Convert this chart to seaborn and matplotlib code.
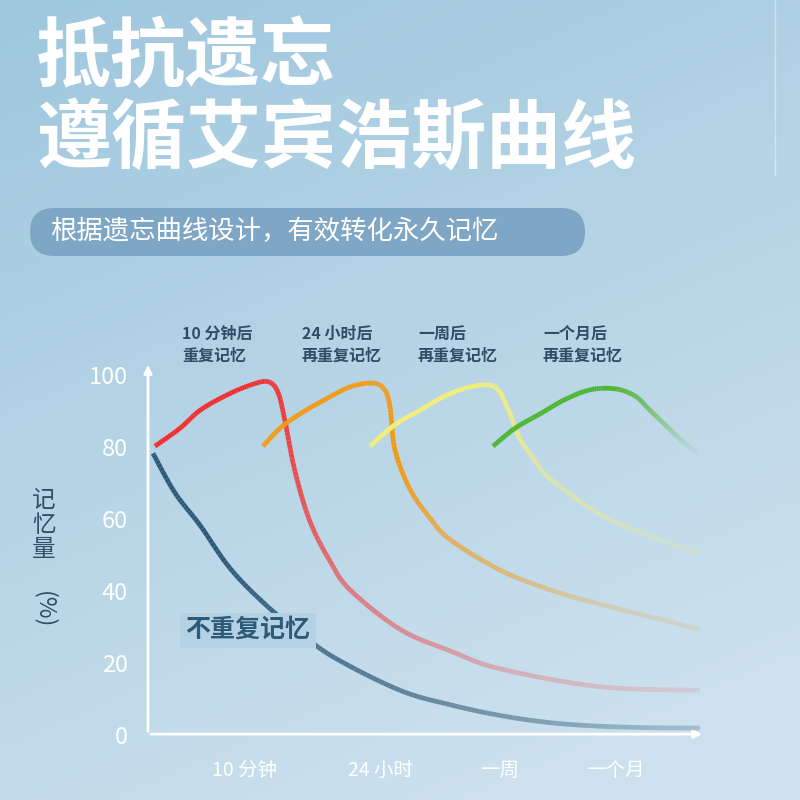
import matplotlib
matplotlib.use("Agg")
import matplotlib.pyplot as plt
import numpy as np
import seaborn as sns
from matplotlib.collections import LineCollection
from matplotlib.patches import FancyBboxPatch

FONT = "Noto Sans CJK SC"
TITLE_1 = "抵抗遗忘"
TITLE_2 = "遵循艾宾浩斯曲线"
SUBTITLE = "根据遗忘曲线设计，有效转化永久记忆"

Y_TICKS = [0, 20, 40, 60, 80, 100]
X_LABELS = ["10 分钟", "24 小时", "一周", "一个月"]
X_LABEL_POS = [245, 380, 500, 615]

# curves: x position along time axis, y memory %
NO_REPEAT_X = [153, 175, 200, 230, 265, 300, 335, 400, 450, 500, 550, 600, 650, 700]
NO_REPEAT_Y = [79, 68, 59, 47, 37, 29, 22, 13, 9, 6, 4, 3, 2.6, 2.5]
RED_X = [155, 180, 200, 225, 250, 268, 278, 285, 295, 310, 330, 350, 400, 450, 500, 600, 700]
RED_Y = [81, 86, 91, 95, 98, 99, 96, 88, 74, 60, 49, 41, 30, 24, 19, 14, 13]
ORANGE_X = [263, 280, 300, 325, 350, 372, 384, 390, 395, 410, 430, 450, 500, 550, 600, 700]
ORANGE_Y = [81, 86, 90, 94, 97.5, 98.6, 97, 92, 80, 69, 61, 55, 46.5, 41, 37, 30]
YELLOW_X = [370, 395, 420, 445, 470, 490, 500, 510, 520, 535, 550, 600, 650, 700]
YELLOW_Y = [81, 87, 91, 95, 97.5, 98, 96, 90, 83, 77, 72, 62, 56, 51]
GREEN_X = [493, 515, 540, 565, 590, 615, 635, 650, 665, 680, 700]
GREEN_Y = [81, 86, 90, 94, 96.7, 97, 95, 91, 87, 83, 78.5]

REPEAT_LABELS = ["10 分钟后\n重复记忆", "24 小时后\n再重复记忆", "一周后\n再重复记忆", "一个月后\n再重复记忆"]
REPEAT_LABEL_X = [182, 302, 418, 543]

PX = 3.59  # pixels per percent
Y0 = 737   # pixel row of 0 %


def smooth(xs, ys, n=12):
    # Catmull-Rom through the read points, for drawing only
    p = np.column_stack([xs, ys]).astype(float)
    p = np.vstack([p[0], p, p[-1]])
    out = []
    for i in range(1, len(p) - 2):
        p0, p1, p2, p3 = p[i - 1], p[i], p[i + 1], p[i + 2]
        for t in np.linspace(0, 1, n, endpoint=False):
            out.append(0.5 * ((2 * p1) + (-p0 + p2) * t + (2 * p0 - 5 * p1 + 4 * p2 - p3) * t ** 2
                              + (-p0 + 3 * p1 - 3 * p2 + p3) * t ** 3))
    out.append(p[-2])
    return np.array(out)


def fade_line(ax, xs, ys, color, lw=3.4, a0=1.0, a1=0.15, start=0.0):
    pts = smooth(xs, ys).reshape(-1, 1, 2)
    segs = np.concatenate([pts[:-1], pts[1:]], axis=1)
    t = np.linspace(0, 1, len(segs))
    alpha = np.where(t < start, a0, a0 + (a1 - a0) * (t - start) / max(1 - start, 1e-6))
    rgba = np.array([matplotlib.colors.to_rgba(color, a) for a in alpha])
    ax.add_collection(LineCollection(segs, colors=rgba, linewidths=lw, capstyle="butt", joinstyle="round",
                                     zorder=3))


def main() -> None:
    sns.set_theme(style="white")
    fig = plt.figure(figsize=(8, 8), dpi=100)
    ax = fig.add_axes([0, 0, 1, 1])
    ax.set_xlim(0, 800)
    ax.set_ylim(-(800 - Y0) / PX, Y0 / PX)
    ax.set_axis_off()

    # background gradient
    gy, gx = np.mgrid[0:1:200j, 0:1:200j]
    top = np.array([0.62, 0.78, 0.87])
    bot = np.array([0.80, 0.88, 0.93])
    w = np.clip(gy * 0.8 + gx * 0.35, 0, 1)[..., None]
    img = top * (1 - w) + bot * w
    ax.imshow(img, extent=[0, 800, -(800 - Y0) / PX, Y0 / PX], aspect="auto", zorder=0, origin="upper")

    def py(p):
        return (Y0 - p) / PX

    ax.plot([775, 775], [py(0), py(175)], color="white", alpha=0.4, lw=1)
    ax.text(36, py(58), TITLE_1, fontfamily=FONT, fontsize=54, fontweight="bold", color="white", va="center")
    ax.text(36, py(140), TITLE_2, fontfamily=FONT, fontsize=54, fontweight="bold", color="white", va="center")
    ax.add_patch(FancyBboxPatch((30, py(256)), 555, 48 / PX, boxstyle="round,pad=0,rounding_size=24",
                                mutation_aspect=1 / PX, fc="#7aa3c2", ec="none", alpha=0.9, zorder=1))
    ax.text(50, py(231), SUBTITLE, fontfamily=FONT, fontsize=19, color="white", va="center")

    # axes
    ax.annotate("", xy=(705, 0.8), xytext=(148, 0.8),
                arrowprops=dict(arrowstyle="-|>", color="white", lw=2))
    ax.annotate("", xy=(148, py(362)), xytext=(148, 0.8),
                arrowprops=dict(arrowstyle="-|>", color="white", lw=2))
    for v in Y_TICKS:
        ax.text(128, v, str(v), fontfamily=FONT, fontsize=17, color="white", ha="right", va="center")
    for lab, x in zip(X_LABELS, X_LABEL_POS):
        ax.text(x, py(770), lab, fontfamily=FONT, fontsize=14, color="white", ha="center", va="center")
    ax.text(44, py(525), "记\n忆\n量", fontfamily=FONT, fontsize=17, color="#2e4d66", ha="center",
            va="center", linespacing=1.1)
    ax.text(44, py(610), "(%)", fontfamily=FONT, fontsize=17, color="#2e4d66", ha="center",
            va="center", rotation=-90)

    for lab, x in zip(REPEAT_LABELS, REPEAT_LABEL_X):
        ax.text(x, py(345), lab, fontfamily=FONT, fontsize=11.5, fontweight="bold", color="#2e4d66",
                va="center", linespacing=1.5)

    fade_line(ax, NO_REPEAT_X, NO_REPEAT_Y, "#2d5a78", a0=1.0, a1=0.25, start=0.2)
    fade_line(ax, RED_X, RED_Y, "#f52a2a", a0=1.0, a1=0.1, start=0.35)
    fade_line(ax, ORANGE_X, ORANGE_Y, "#f39a12", a0=1.0, a1=0.12, start=0.55)
    fade_line(ax, YELLOW_X, YELLOW_Y, "#f3f07a", a0=1.0, a1=0.15, start=0.45)
    fade_line(ax, GREEN_X, GREEN_Y, "#4bb52e", a0=1.0, a1=0.0, start=0.5)

    ax.text(185, py(630), "不重复记忆", fontfamily=FONT, fontsize=18, fontweight="bold", color="#2d5a78",
            va="center", zorder=4, bbox=dict(fc="#b4d2e3", ec="none", pad=4))

    fig.savefig("out.png", dpi=100)
    plt.close(fig)


if __name__ == "__main__":
    main()
